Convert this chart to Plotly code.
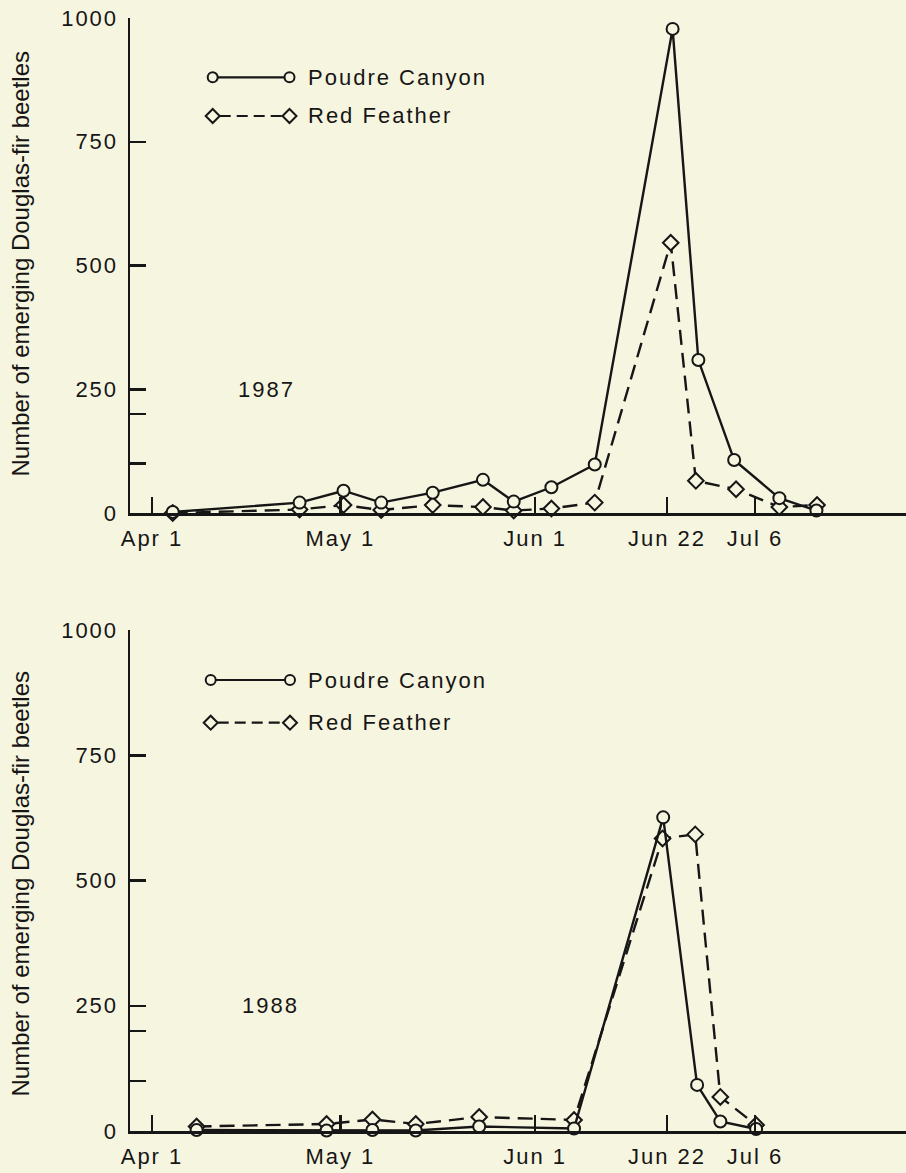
import plotly.graph_objects as go

W, H = 906, 1173
BG = "#f6f5df"
INK = "#161616"
FONT = "Liberation Sans, Arial, Helvetica, sans-serif"
LS = "letter-spacing:2px"

# ---- data (days since Apr 1) ----
tick_days = [0, 30, 61, 82, 96]
tick_labels = ["Apr 1", "May 1", "Jun 1", "Jun 22", "Jul 6"]
y_tickvals = [0, 100, 200, 250, 500, 750, 1000]
y_ticklabels = ["0", "", "", "250", "500", "750", "1000"]

series_names = ["Poudre Canyon", "Red Feather"]

days_1987_poudre = [3.3, 23.5, 30.5, 36.5, 44.7, 52.7, 57.6, 63.6, 70.5, 82.9, 87.0, 92.7, 99.9, 105.8]
vals_1987_poudre = [2, 21, 45, 21, 41, 67, 23, 52, 98, 978, 309, 107, 30, 5]
days_1987_red = [3.3, 23.5, 30.5, 36.5, 44.7, 52.7, 57.6, 63.6, 70.5, 82.6, 86.6, 93.0, 99.9, 105.9]
vals_1987_red = [0, 7, 16, 6, 16, 12, 5, 9, 21, 546, 65, 48, 12, 16]

days_1988_poudre = [7.1, 27.8, 35.1, 42.0, 52.1, 67.2, 81.4, 86.8, 90.5, 96.2]
vals_1988_poudre = [2, 1, 2, 1, 9, 5, 626, 92, 19, 4]
days_1988_red = [7.1, 27.8, 35.1, 42.0, 52.1, 67.2, 81.3, 86.5, 90.5, 96.2]
vals_1988_red = [9, 14, 23, 14, 28, 22, 584, 592, 68, 12]

year_labels = ["1987", "1988"]
y_title = "Number of emerging Douglas-fir beetles"

# ---- figure ----
fig = go.Figure()

def add_series(xs, ys, xa, ya, dashed):
    fig.add_trace(go.Scatter(
        x=xs, y=ys, xaxis=xa, yaxis=ya, mode="lines+markers",
        line=dict(color=INK, width=2.4, dash="15px,8px" if dashed else "solid"),
        marker=dict(symbol="diamond" if dashed else "circle", size=12,
                    color=BG, line=dict(color=INK, width=2)),
        cliponaxis=False, showlegend=False, hoverinfo="skip"))

add_series(days_1987_red, vals_1987_red, "x", "y", True)
add_series(days_1987_poudre, vals_1987_poudre, "x", "y", False)
add_series(days_1988_red, vals_1988_red, "x2", "y2", True)
add_series(days_1988_poudre, vals_1988_poudre, "x2", "y2", False)

def sp(t):
    return f'<span style="{LS}">{t}</span>' if t else ""

x_left_px = 130
day0_px, px_per_day = 152, 6.28
xrange = [(x_left_px - day0_px) / px_per_day, (W - day0_px) / px_per_day]

def xaxis_cfg(anchor):
    return dict(domain=[x_left_px / W, 1], range=xrange, anchor=anchor,
                showline=True, linecolor=INK, linewidth=2.5, ticks="inside",
                ticklen=16, tickwidth=2.5, tickcolor=INK, tickvals=tick_days,
                ticktext=[sp(t) for t in tick_labels], showgrid=False, zeroline=False,
                tickfont=dict(family=FONT, size=22, color=INK), ticklabelstandoff=4,
                automargin=False, fixedrange=True)

def yaxis_cfg(anchor, top_px, bottom_px):
    return dict(domain=[1 - bottom_px / H, 1 - top_px / H], range=[0, 1000], anchor=anchor,
                showline=True, linecolor=INK, linewidth=2.5, ticks="inside",
                ticklen=16, tickwidth=2.5, tickcolor=INK, tickvals=y_tickvals,
                ticktext=[sp(t) for t in y_ticklabels], showgrid=False, zeroline=False,
                tickfont=dict(family=FONT, size=22, color=INK), ticklabelstandoff=5,
                automargin=False, fixedrange=True)

fig.update_layout(
    width=W, height=H, paper_bgcolor=BG, plot_bgcolor=BG, template="none",
    margin=dict(l=0, r=0, t=0, b=0),
    xaxis=xaxis_cfg("y"), yaxis=yaxis_cfg("x", 18, 513),
    xaxis2=xaxis_cfg("y2"), yaxis2=yaxis_cfg("x2", 630, 1131),
    font=dict(family=FONT, color=INK),
)

def P(x, y):
    return x / W, 1 - y / H

shapes, annos = [], []

def legend(circ_y, dia_y, left_x, right_x, text_x):
    a, yy = P(left_x + 5, circ_y)
    b, _ = P(right_x - 5, circ_y)
    shapes.append(dict(type="line", xref="paper", yref="paper", x0=a, x1=b, y0=yy, y1=yy,
                       line=dict(color=INK, width=2.2)))
    for cx in (left_x, right_x):
        xa, ya = P(cx, circ_y)
        shapes.append(dict(type="circle", xref="paper", yref="paper", xsizemode="pixel",
                           ysizemode="pixel", xanchor=xa, yanchor=ya, x0=-5, x1=5, y0=-5, y1=5,
                           line=dict(color=INK, width=2), fillcolor=BG))
    a, yy = P(left_x + 7, dia_y)
    b, _ = P(right_x - 7, dia_y)
    shapes.append(dict(type="line", xref="paper", yref="paper", x0=a, x1=b, y0=yy, y1=yy,
                       line=dict(color=INK, width=2.2, dash="11px,6px")))
    for cx in (left_x, right_x):
        xa, ya = P(cx, dia_y)
        shapes.append(dict(type="path", xref="paper", yref="paper", xsizemode="pixel",
                           ysizemode="pixel", xanchor=xa, yanchor=ya,
                           path="M -7,0 L 0,7 L 7,0 L 0,-7 Z",
                           line=dict(color=INK, width=2), fillcolor=BG))
    for name, ry in zip(series_names, (circ_y, dia_y)):
        tx, ty = P(text_x, ry)
        annos.append(dict(xref="paper", yref="paper", x=tx, y=ty, xanchor="left",
                          yanchor="middle", showarrow=False, text=sp(name),
                          font=dict(family=FONT, size=22, color=INK)))

legend(77.3, 116, 212.7, 289.5, 306)
legend(680, 722.7, 210.7, 290, 306)

annos.append(dict(xref="x", yref="y", x=18.3, y=250, text=sp(year_labels[0]), showarrow=False,
                  font=dict(family=FONT, size=22, color=INK)))
annos.append(dict(xref="x2", yref="y2", x=18.9, y=250, text=sp(year_labels[1]), showarrow=False,
                  font=dict(family=FONT, size=22, color=INK)))

for cy in (264, 884):
    tx, ty = P(19.5, cy)
    annos.append(dict(xref="paper", yref="paper", x=tx, y=ty, textangle=-90, showarrow=False,
                      xanchor="center", yanchor="middle", text=y_title,
                      font=dict(family=FONT, size=24, color=INK)))

fig.update_layout(shapes=shapes, annotations=annos)
fig.write_html(
    "out.html",
    config={"displayModeBar": False, "staticPlot": True},
    post_script="document.body.style.margin='0';document.body.style.overflow='hidden';"
                "document.body.style.background='" + BG + "';",
)
